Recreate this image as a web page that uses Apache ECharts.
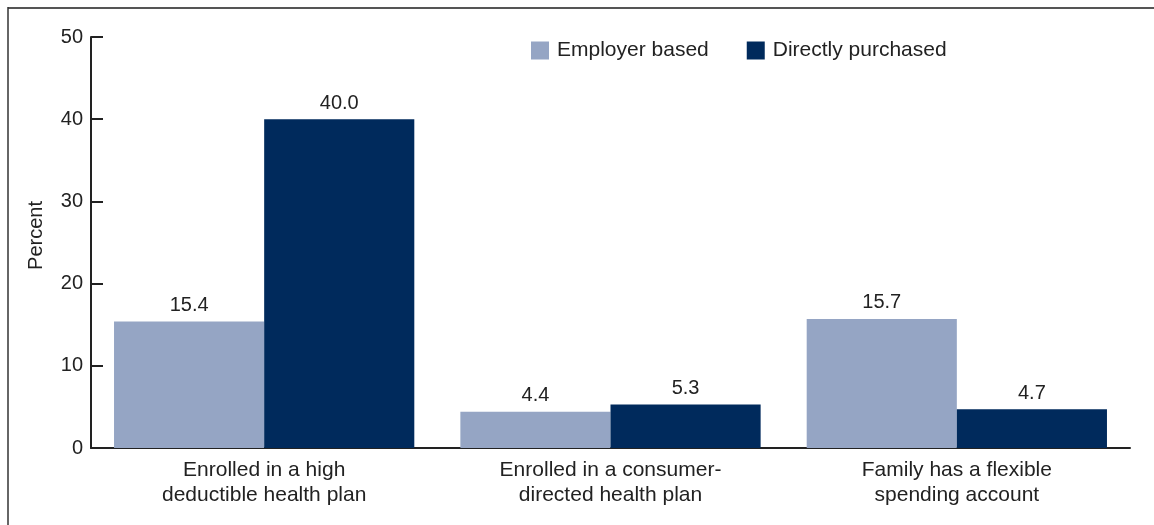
<!DOCTYPE html>
<html><head><meta charset="utf-8">
<script src="https://cdn.jsdelivr.net/npm/echarts@6/dist/echarts.min.js"></script>
<style>html,body{margin:0;padding:0;background:#fff}#c{width:1154px;height:525px}</style>
</head><body><div id="c"></div>
<script>
var categories = ['Enrolled in a high\ndeductible health plan', 'Enrolled in a consumer-\ndirected health plan', 'Family has a flexible\nspending account'];
var employerBased = [15.4, 4.4, 15.7];
var directlyPurchased = [40.0, 5.3, 4.7];
var seriesNames = ['Employer based', 'Directly purchased'];
var yTicks = [0, 10, 20, 30, 40, 50];

var chart = echarts.init(document.getElementById('c'), null, {renderer: 'canvas'});
var font = 'Liberation Sans, Arial, sans-serif';
var label = {show: true, position: 'top', distance: 6, color: '#222', fontSize: 20, fontFamily: font,
  formatter: function (p) { return p.value.toFixed(1); }};
chart.setOption({
  animation: false,
  backgroundColor: '#fff',
  graphic: [
    {type: 'line', shape: {x1: 8, y1: 8, x2: 1154, y2: 8}, style: {stroke: '#555', lineWidth: 2}},
    {type: 'line', shape: {x1: 8, y1: 7, x2: 8, y2: 525}, style: {stroke: '#333', lineWidth: 1.5}}
  ],
  legend: {
    data: seriesNames, left: 531, top: 40, padding: 0, itemWidth: 18, itemHeight: 18, itemGap: 38,
    textStyle: {fontSize: 21, color: '#222', fontFamily: font, padding: [0, 0, 0, 3]},
    icon: 'rect'
  },
  grid: {left: 91, right: 24, top: 37, bottom: 77, containLabel: false},
  xAxis: {
    type: 'category', data: categories,
    axisLine: {lineStyle: {color: '#222', width: 2}},
    axisTick: {show: false},
    axisLabel: {color: '#222', fontSize: 21, fontFamily: font, lineHeight: 25, margin: 10}
  },
  yAxis: {
    type: 'value', min: 0, max: 50, interval: 10,
    name: 'Percent', nameLocation: 'middle', nameGap: 45, nameRotate: 90,
    nameTextStyle: {color: '#222', fontSize: 20, fontFamily: font, padding: [0, 0, 0, 14]},
    axisLine: {show: true, lineStyle: {color: '#222', width: 2}},
    axisTick: {show: true, inside: true, length: 12, lineStyle: {color: '#222', width: 2}},
    splitLine: {show: false},
    axisLabel: {color: '#222', fontSize: 20, fontFamily: font, margin: 8,
      formatter: function (v) { return yTicks.indexOf(v) >= 0 ? String(v) : ''; }}
  },
  series: [
    {name: seriesNames[0], type: 'bar', data: employerBased, itemStyle: {color: '#95a5c4'},
      barGap: '0%', barCategoryGap: '13.3%', label: label},
    {name: seriesNames[1], type: 'bar', data: directlyPurchased, itemStyle: {color: '#002a5c'},
      barGap: '0%', barCategoryGap: '13.3%', label: label}
  ]
});
</script></body></html>
